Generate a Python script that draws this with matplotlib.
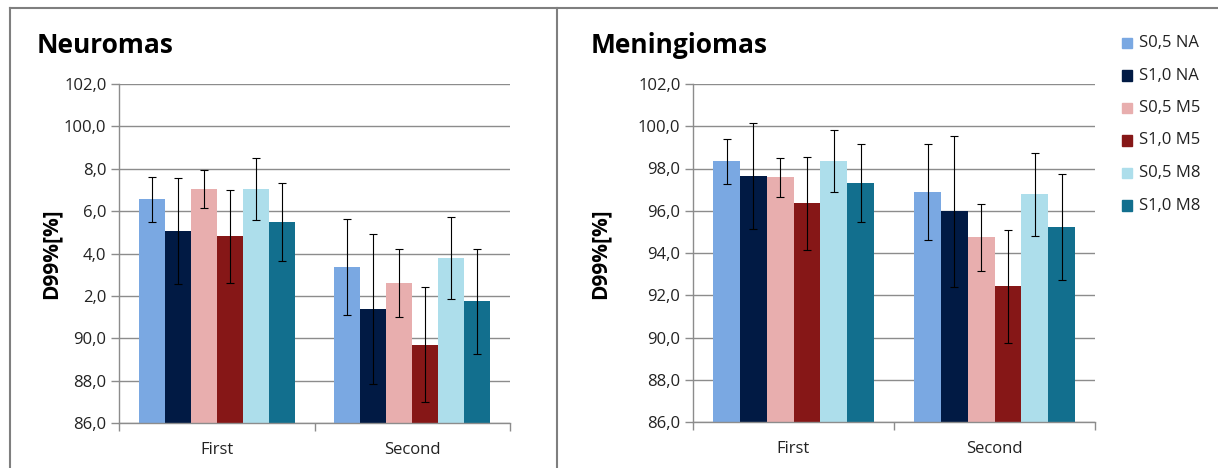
import matplotlib
matplotlib.use("Agg")
import matplotlib.pyplot as plt
from matplotlib.patches import Rectangle
from matplotlib.lines import Line2D
import numpy as np

plt.rcParams['font.family'] = ['Open Sans', 'DejaVu Sans']

categories = ["First", "Second"]
series = ["S0,5 NA", "S1,0 NA", "S0,5 M5", "S1,0 M5", "S0,5 M8", "S1,0 M8"]
colors = ["#7AA8E2", "#011A44", "#E8AEAE", "#861717", "#ADDEEB", "#126F8E"]

# Neuromas: values per series [First, Second]
neuro_vals = [[96.55, 93.35], [95.05, 91.38], [97.05, 92.59],
              [94.81, 89.70], [97.05, 93.79], [95.49, 91.74]]
neuro_err = [[1.06, 2.27], [2.5, 3.56], [0.9, 1.6],
             [2.2, 2.7], [1.45, 1.95], [1.85, 2.47]]
neuro_ticklabels = ["86,0", "88,0", "90,0", "2,0", "4,0", "6,0", "8,0", "100,0", "102,0"]

# Meningiomas
menin_vals = [[98.35, 96.87], [97.64, 95.97], [97.59, 94.74],
              [96.36, 92.43], [98.35, 96.78], [97.32, 95.23]]
menin_err = [[1.07, 2.27], [2.5, 3.56], [0.93, 1.6],
             [2.2, 2.68], [1.47, 1.97], [1.85, 2.5]]
menin_ticklabels = ["86,0", "88,0", "90,0", "92,0", "94,0", "96,0", "98,0", "100,0", "102,0"]

yticks = [86, 88, 90, 92, 94, 96, 98, 100, 102]

W, H = 1218, 468
fig = plt.figure(figsize=(W / 100, H / 100), dpi=100)

grid_c = "#8C8C8C"
text_c = "#222222"

def draw_panel(rect, vals, errs, ticklabels):
    ax = fig.add_axes(rect)
    x = np.arange(len(categories))
    bw = 0.8 / len(series)
    for i, (v, e, c) in enumerate(zip(vals, errs, colors)):
        xs = x + (i - (len(series) - 1) / 2) * bw
        ax.bar(xs, np.array(v) - 86, bottom=86, width=bw, color=c, zorder=2)
        ax.errorbar(xs, v, yerr=e, fmt='none', ecolor='black', elinewidth=0.8,
                    capsize=3.2, capthick=0.8, zorder=3)
    ax.set_xlim(-0.5, len(categories) - 0.5)
    ax.set_ylim(86, 102)
    ax.set_yticks(yticks)
    ax.set_yticklabels(ticklabels, fontsize=12, color=text_c)
    ax.yaxis.grid(True, color=grid_c, linewidth=1.0, zorder=0)
    ax.set_axisbelow(True)
    ax.set_xticks(np.arange(-0.5, len(categories), 1.0))
    ax.set_xticklabels([])
    ax.set_xticks(x, minor=True)
    ax.set_xticklabels(categories, minor=True, fontsize=12, color=text_c)
    ax.tick_params(axis='x', which='minor', length=0, pad=14)
    ax.tick_params(axis='x', which='major', length=6, color=grid_c, width=1.0)
    ax.tick_params(axis='y', length=6, color=grid_c, width=1.0, pad=3)
    for s in ['top', 'right']:
        ax.spines[s].set_visible(False)
    for s in ['left', 'bottom']:
        ax.spines[s].set_color(grid_c)
        ax.spines[s].set_linewidth(1.0)
    return ax

def fx(px):
    return px / W

def fy(py):
    return 1 - py / H

draw_panel([fx(119), fy(423), fx(510 - 119), (423 - 84) / H], neuro_vals, neuro_err, neuro_ticklabels)
draw_panel([fx(693), fy(422), fx(1095 - 693), (422 - 84) / H], menin_vals, menin_err, menin_ticklabels)

# Titles
fig.text(fx(37), fy(53), "Neuromas", fontsize=19, fontweight='bold', va='baseline', ha='left')
fig.text(fx(591), fy(53), "Meningiomas", fontsize=19, fontweight='bold', va='baseline', ha='left')

# Y labels
fig.text(fx(51), fy(254), "D99%[%]", fontsize=15, fontweight='bold', rotation=90, va='center', ha='center')
fig.text(fx(600), fy(254), "D99%[%]", fontsize=15, fontweight='bold', rotation=90, va='center', ha='center')

# Legend
row_y = [43, 75.5, 108, 140.5, 173, 205.5]
for name, c, ry in zip(series, colors, row_y):
    fig.patches.append(Rectangle((fx(1122), fy(ry + 5)), fx(10), 10 / H, color=c,
                                 transform=fig.transFigure, figure=fig))
    fig.text(fx(1139), fy(ry), name, fontsize=12, va='center', ha='left', color=text_c)

# Panel frames
frame_c = "#7F7F7F"
fig.lines.append(Line2D([fx(10), fx(10)], [0, fy(8)], color=frame_c, lw=1.5, transform=fig.transFigure, figure=fig))
fig.lines.append(Line2D([fx(10), 1], [fy(8), fy(8)], color=frame_c, lw=1.5, transform=fig.transFigure, figure=fig))
fig.lines.append(Line2D([fx(557), fx(557)], [0, fy(8)], color=frame_c, lw=1.5, transform=fig.transFigure, figure=fig))

fig.savefig("out.png", dpi=100)
